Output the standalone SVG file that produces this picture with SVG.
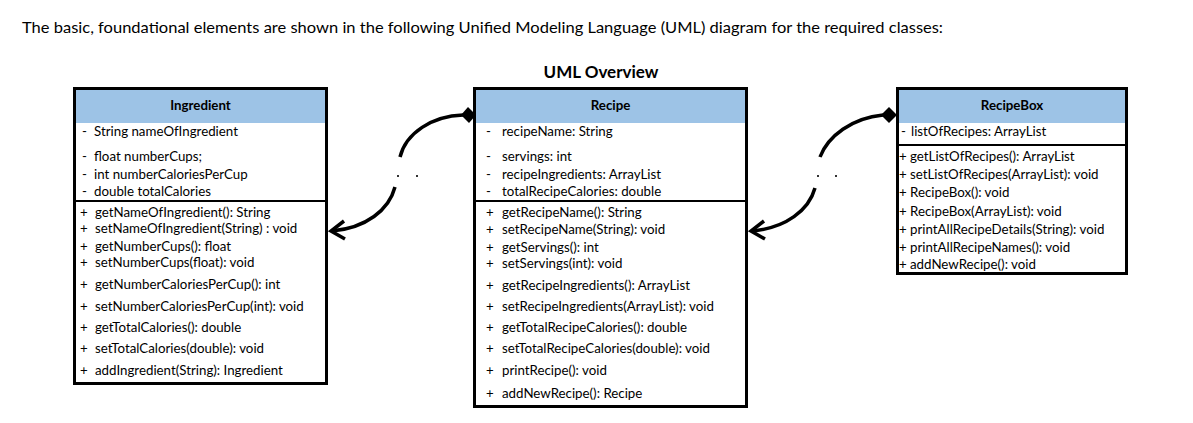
<svg xmlns="http://www.w3.org/2000/svg" width="1193" height="423" viewBox="0 0 1193 423">
<style>
  text { font-family: Lato, "Liberation Sans", sans-serif; fill: #000; }
  .t { font-size: 13.3px; }
  .h { font-size: 13.3px; font-weight: bold; text-anchor: middle; }
  .box { fill: #fff; stroke: #000; stroke-width: 3; }
  .hdr { fill: #9DC3E6; }
  .div { stroke: #000; stroke-width: 2; }
  .con { fill: none; stroke: #000; stroke-width: 3.5; }
</style>
<rect width="1193" height="423" fill="#fff"/>
<text x="22" y="33" style="font-size:14.67px" textLength="921" lengthAdjust="spacingAndGlyphs">The basic, foundational elements are shown in the following Unified Modeling Language (UML) diagram for the required classes:</text>
<text x="601" y="78" style="font-size:17px;font-weight:bold;text-anchor:middle">UML Overview</text>

<g id="Ingredient">
  <rect class="box" x="74.5" y="88.5" width="252" height="295"/>
  <rect class="hdr" x="76" y="90" width="249" height="33"/>
  <text class="h" x="200.5" y="110">Ingredient</text>
  <line class="div" x1="76" y1="201" x2="325" y2="201"/>
  <g class="t">
    <text x="82" y="136">-<tspan x="94">String nameOfIngredient</tspan></text>
    <text x="82" y="161">-<tspan x="94">float numberCups;</tspan></text>
    <text x="82" y="179">-<tspan x="94">int numberCaloriesPerCup</tspan></text>
    <text x="82" y="196">-<tspan x="94">double totalCalories</tspan></text>
    <text x="80" y="217">+<tspan x="95">getNameOfIngredient(): String</tspan></text>
    <text x="80" y="233">+<tspan x="95">setNameOfIngredient(String) : void</tspan></text>
    <text x="80" y="251">+<tspan x="95">getNumberCups(): float</tspan></text>
    <text x="80" y="267">+<tspan x="95">setNumberCups(float): void</tspan></text>
    <text x="80" y="289">+<tspan x="95">getNumberCaloriesPerCup(): int</tspan></text>
    <text x="80" y="311">+<tspan x="95">setNumberCaloriesPerCup(int): void</tspan></text>
    <text x="80" y="332">+<tspan x="95">getTotalCalories(): double</tspan></text>
    <text x="80" y="353">+<tspan x="95">setTotalCalories(double): void</tspan></text>
    <text x="80" y="375">+<tspan x="95">addIngredient(String): Ingredient</tspan></text>
  </g>
</g>

<g id="Recipe">
  <rect class="box" x="474.5" y="88.5" width="272" height="318"/>
  <rect class="hdr" x="476" y="90" width="269" height="33"/>
  <text class="h" x="610.5" y="110">Recipe</text>
  <line class="div" x1="476" y1="201" x2="745" y2="201"/>
  <g class="t">
    <text x="486" y="136">-<tspan x="502">recipeName: String</tspan></text>
    <text x="486" y="161">-<tspan x="502">servings: int</tspan></text>
    <text x="486" y="179">-<tspan x="502">recipeIngredients: ArrayList</tspan></text>
    <text x="486" y="196">-<tspan x="502">totalRecipeCalories: double</tspan></text>
    <text x="486" y="217">+<tspan x="502">getRecipeName(): String</tspan></text>
    <text x="486" y="234">+<tspan x="502">setRecipeName(String): void</tspan></text>
    <text x="486" y="252">+<tspan x="502">getServings(): int</tspan></text>
    <text x="486" y="268">+<tspan x="502">setServings(int): void</tspan></text>
    <text x="486" y="290">+<tspan x="502">getRecipeIngredients(): ArrayList</tspan></text>
    <text x="486" y="311">+<tspan x="502">setRecipeIngredients(ArrayList): void</tspan></text>
    <text x="486" y="332">+<tspan x="502">getTotalRecipeCalories(): double</tspan></text>
    <text x="486" y="353">+<tspan x="502">setTotalRecipeCalories(double): void</tspan></text>
    <text x="486" y="375">+<tspan x="502">printRecipe(): void</tspan></text>
    <text x="486" y="398">+<tspan x="502">addNewRecipe(): Recipe</tspan></text>
  </g>
</g>

<g id="RecipeBox">
  <rect class="box" x="897.5" y="88.5" width="229" height="185"/>
  <rect class="hdr" x="899" y="90" width="226" height="33"/>
  <text class="h" x="1012" y="110">RecipeBox</text>
  <line class="div" x1="899" y1="145" x2="1125" y2="145"/>
  <g class="t">
    <text x="901" y="136">-<tspan x="911">listOfRecipes: ArrayList</tspan></text>
    <text x="899" y="161">+<tspan x="910">getListOfRecipes(): ArrayList</tspan></text>
    <text x="899" y="179">+<tspan x="910">setListOfRecipes(ArrayList): void</tspan></text>
    <text x="899" y="197">+<tspan x="910">RecipeBox(): void</tspan></text>
    <text x="899" y="216">+<tspan x="910">RecipeBox(ArrayList): void</tspan></text>
    <text x="899" y="234">+<tspan x="910">printAllRecipeDetails(String): void</tspan></text>
    <text x="899" y="252">+<tspan x="910">printAllRecipeNames(): void</tspan></text>
    <text x="899" y="269">+<tspan x="910">addNewRecipe(): void</tspan></text>
  </g>
</g>

<g id="connectors">
  <path class="con" d="M 463 115 C 432 116 406 133 400 157"/>
  <path class="con" d="M 395 187 C 389 210 366 228 332 231"/>
  <path class="con" d="M 344 221 L 331 231 L 345 239"/>
  <polygon points="461,115 468,107 476,115 469,123" fill="#000"/>
  <rect x="397" y="175" width="2" height="2" fill="#333"/>
  <rect x="416" y="175" width="2" height="2" fill="#333"/>

  <path class="con" d="M 883 115 C 852 118 828 136 820 157"/>
  <path class="con" d="M 815 188 C 809 210 786 228 752 231"/>
  <path class="con" d="M 764 221 L 751 231 L 765 239"/>
  <polygon points="881,115 889,107 897,115 889,123" fill="#000"/>
  <rect x="817" y="175" width="2" height="2" fill="#333"/>
  <rect x="835" y="175" width="2" height="2" fill="#333"/>
</g>
</svg>
